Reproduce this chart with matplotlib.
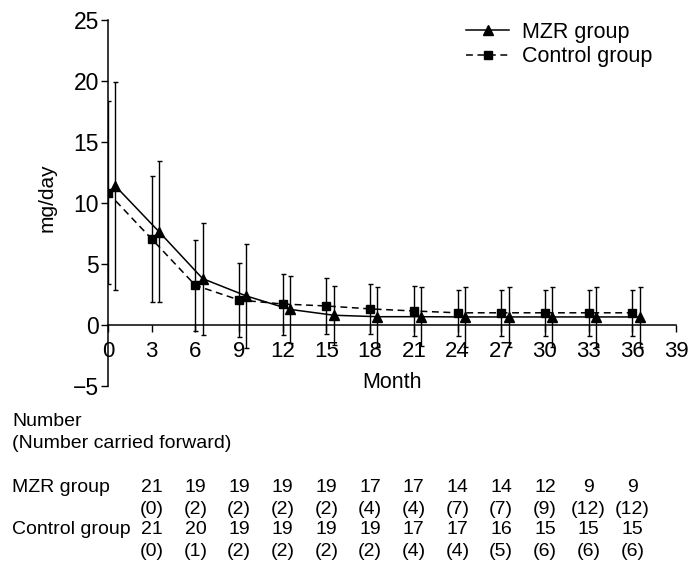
import numpy as np
import matplotlib
matplotlib.use('Agg')
import matplotlib.pyplot as plt
import matplotlib.transforms as mtransforms

plt.rcParams['font.family'] = ['Liberation Sans', 'DejaVu Sans']

months = np.arange(0, 37, 3)
mzr_mean = [11.4, 7.65, 3.8, 2.38, 1.28, 0.8, 0.68, 0.68, 0.66, 0.66, 0.66, 0.66, 0.66]
mzr_sd = [8.55, 5.8, 4.6, 4.3, 2.72, 2.4, 2.45, 2.42, 2.48, 2.45, 2.45, 2.45, 2.45]
ctrl_mean = [10.84, 7.05, 3.25, 2.05, 1.72, 1.56, 1.32, 1.15, 1.0, 1.0, 1.0, 1.0, 1.0]
ctrl_sd = [7.5, 5.2, 3.75, 3.03, 2.5, 2.3, 2.08, 2.02, 1.88, 1.88, 1.88, 1.88, 1.88]

# number table (columns line up with months 3..36)
table_months = months[1:]
table_groups = ['MZR group', 'Control group']
mzr_n = ['21', '19', '19', '19', '19', '17', '17', '14', '14', '12', '9', '9']
mzr_cf = ['(0)', '(2)', '(2)', '(2)', '(2)', '(4)', '(4)', '(7)', '(7)', '(9)', '(12)', '(12)']
ctrl_n = ['21', '20', '19', '19', '19', '19', '17', '17', '16', '15', '15', '15']
ctrl_cf = ['(0)', '(1)', '(2)', '(2)', '(2)', '(2)', '(4)', '(4)', '(5)', '(6)', '(6)', '(6)']

W, H = 700, 574
fig = plt.figure(figsize=(W / 100, H / 100), dpi=100)
ax = fig.add_axes([108 / W, 1 - 386 / H, 568 / W, 366 / H])

offset = 0.5  # MZR points sit slightly right of the tick
lw = 1.1
ax.plot(months + offset, mzr_mean, color='black', lw=lw, marker='^', ms=6.8,
        label='MZR group')
ax.plot(months, ctrl_mean, color='black', lw=lw, ls=(0, (4.5, 3)), marker='s', ms=5.5,
        label='Control group')
ax.errorbar(months + offset, mzr_mean, yerr=mzr_sd, fmt='none', ecolor='black',
            elinewidth=1.0, capsize=1.8, capthick=1.0)
ax.errorbar(months, ctrl_mean, yerr=ctrl_sd, fmt='none', ecolor='black',
            elinewidth=1.0, capsize=1.8, capthick=1.0)

ax.set_xlim(0, 39)
ax.set_ylim(-5, 25)
ax.set_xticks(np.arange(0, 40, 3))
ax.set_yticks(np.arange(-5, 26, 5))
ax.set_yticklabels(['\u22125'] + [str(v) for v in range(0, 26, 5)])
ax.spines['top'].set_visible(False)
ax.spines['right'].set_visible(False)
ax.spines['bottom'].set_position(('data', 0))
for s in ('left', 'bottom'):
    ax.spines[s].set_linewidth(1.1)
ax.tick_params(direction='out', length=5, width=1.0)
ax.tick_params(axis='x', labelsize=16, pad=6.5)
ax.tick_params(axis='y', labelsize=16.5, pad=1.5)

ax.set_ylabel('mg/day', fontsize=15, va='center')
ax.yaxis.set_label_coords(-61 / 568, 1 - (198 - 20) / 366)
ax.set_xlabel('Month', fontsize=15.5, va='center')
ax.xaxis.set_label_coords(0.5, 1 - (383 - 20) / 366)

ax.legend(loc='upper left', bbox_to_anchor=((466 - 108) / 568, 0.995), frameon=False,
          fontsize=15.5, handlelength=2.0, handletextpad=0.6,
          labelspacing=0.15, borderpad=0, borderaxespad=0)

fs = 14
tr = mtransforms.blended_transform_factory(ax.transData, fig.transFigure)

def fy(py):
    return 1 - py / H

fig.text(12 / W, fy(421), 'Number', fontsize=fs, va='center')
fig.text(12 / W, fy(444), '(Number carried forward)', fontsize=fs, va='center')
fig.text(12 / W, fy(487), table_groups[0], fontsize=fs, va='center')
fig.text(12 / W, fy(530), table_groups[1], fontsize=fs, va='center')
rows = [(mzr_n, 487), (mzr_cf, 509), (ctrl_n, 530), (ctrl_cf, 552)]
for vals, py in rows:
    for m_, v in zip(table_months, vals):
        fig.text(m_, fy(py), v, fontsize=fs, ha='center', va='center', transform=tr)

fig.savefig('out.png', dpi=100)
